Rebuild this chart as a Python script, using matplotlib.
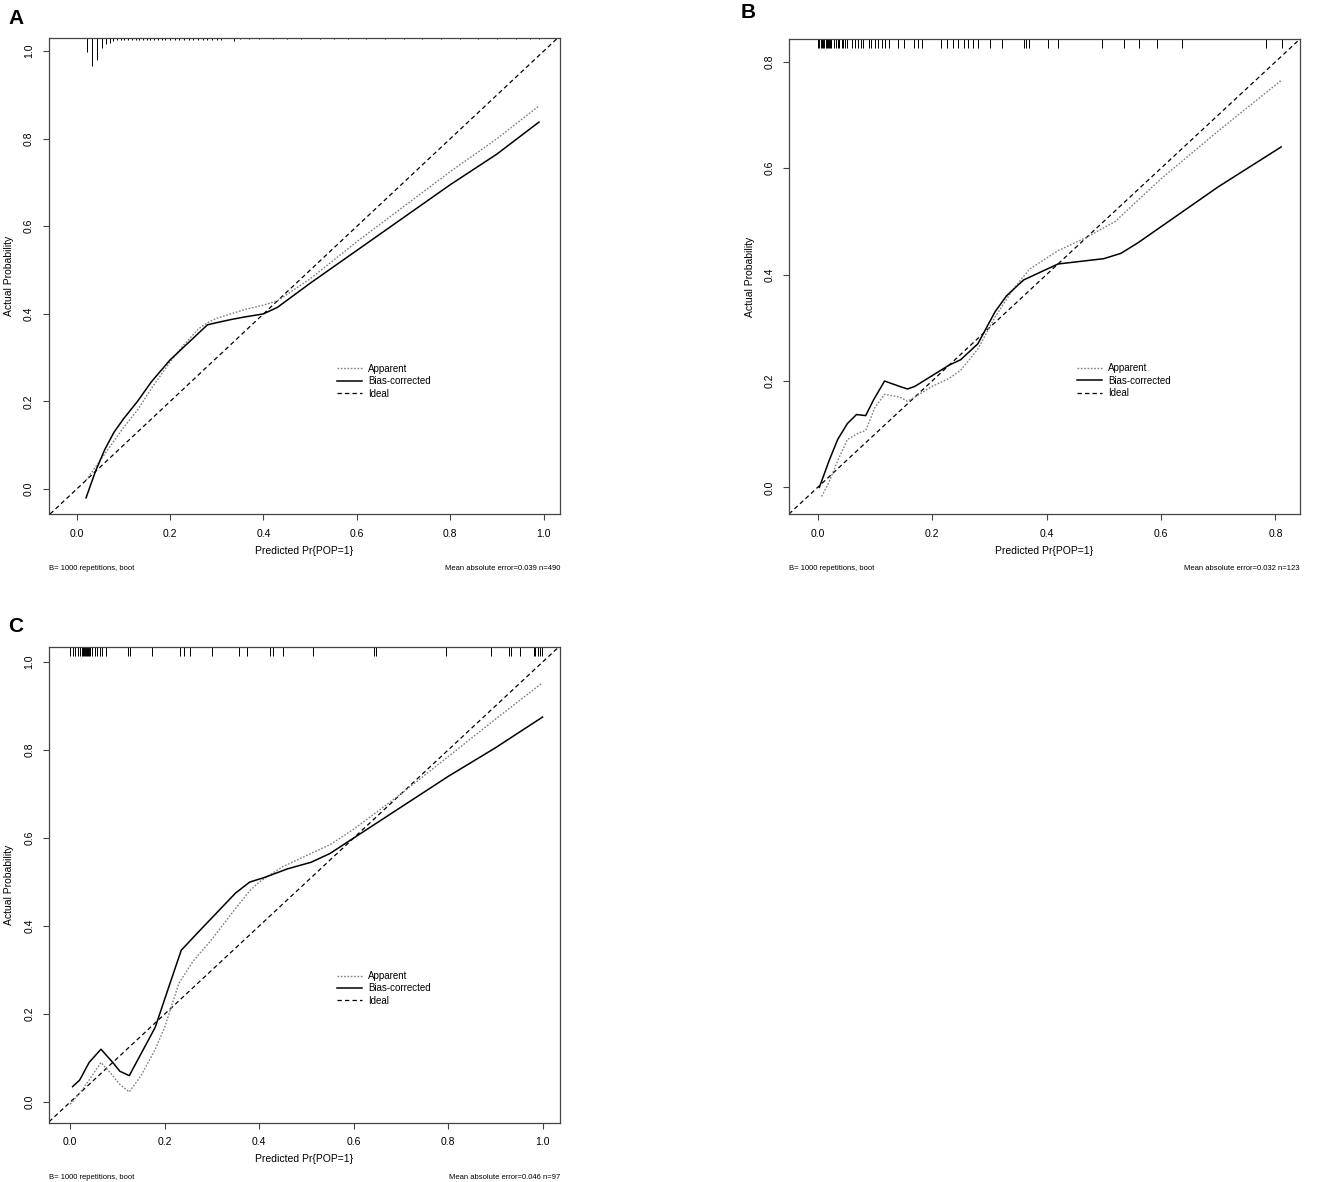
import matplotlib
matplotlib.use("Agg")
import matplotlib.pyplot as plt
from matplotlib.lines import Line2D

plt.rcParams['font.family'] = ['Liberation Sans', 'DejaVu Sans']

W, H = 1325, 1182

# ---- panel A data ----
a_app_x = [0.02, 0.04, 0.06, 0.08, 0.10, 0.13, 0.16, 0.20, 0.23, 0.26, 0.28, 0.30,
           0.33, 0.36, 0.40, 0.43, 0.50, 0.60, 0.70, 0.80, 0.90, 0.99]
a_app_y = [0.02, 0.05, 0.08, 0.11, 0.14, 0.18, 0.23, 0.29, 0.33, 0.365, 0.38, 0.39,
           0.40, 0.41, 0.42, 0.43, 0.48, 0.565, 0.645, 0.725, 0.80, 0.875]
a_bc_x = [0.02, 0.04, 0.06, 0.08, 0.10, 0.13, 0.16, 0.20, 0.23, 0.26, 0.28, 0.30,
          0.33, 0.36, 0.40, 0.43, 0.50, 0.60, 0.70, 0.80, 0.90, 0.99]
a_bc_y = [-0.02, 0.04, 0.09, 0.13, 0.16, 0.20, 0.245, 0.295, 0.325, 0.355, 0.375, 0.38,
          0.387, 0.393, 0.40, 0.415, 0.47, 0.545, 0.62, 0.695, 0.765, 0.838]
# distribution of predicted values (relative frequencies)
a_rug_x = [0.023, 0.033, 0.043, 0.054, 0.062, 0.071, 0.078, 0.086, 0.094, 0.102, 0.11,
           0.118, 0.126, 0.134, 0.142, 0.15, 0.158, 0.166, 0.174, 0.182, 0.19, 0.2,
           0.21, 0.22, 0.23, 0.24, 0.25, 0.26, 0.27, 0.28, 0.29, 0.3, 0.31, 0.336,
           0.35, 0.37, 0.39, 0.42, 0.45, 0.48, 0.52, 0.55, 0.58, 0.62, 0.66, 0.7,
           0.74, 0.78, 0.82, 0.86, 0.9, 0.94, 0.97, 0.99]
a_rug_n = [9, 18, 14, 6.5, 4, 3, 2, 1.5, 1.5, 1.5, 1.5,
           1.2, 1.2, 1.2, 1.2, 1.2, 1, 1, 1, 1, 1, 1,
           1, 1, 1, 1, 1, 1, 1, 1, 1, 1, 1, 2,
           0.8, 0.8, 0.8, 0.8, 0.8, 0.8, 0.8, 0.8, 0.8, 0.8, 0.8, 0.8,
           0.8, 0.8, 0.8, 0.8, 0.8, 0.8, 0.8, 0.8]

# ---- panel B data ----
b_app_x = [0.007, 0.02, 0.035, 0.052, 0.073, 0.084, 0.10, 0.117, 0.143, 0.157, 0.17,
           0.20, 0.23, 0.25, 0.28, 0.31, 0.34, 0.37, 0.42, 0.47, 0.52, 0.56, 0.60,
           0.70, 0.81]
b_app_y = [-0.017, 0.01, 0.05, 0.09, 0.103, 0.107, 0.15, 0.175, 0.17, 0.162, 0.17,
           0.19, 0.205, 0.22, 0.26, 0.32, 0.37, 0.41, 0.445, 0.47, 0.50, 0.54, 0.58,
           0.67, 0.765]
b_bc_x = [0.003, 0.02, 0.035, 0.052, 0.068, 0.084, 0.098, 0.117, 0.143, 0.157, 0.17,
          0.20, 0.23, 0.25, 0.28, 0.31, 0.33, 0.36, 0.38, 0.42, 0.50, 0.53, 0.56,
          0.60, 0.70, 0.81]
b_bc_y = [0.0, 0.05, 0.09, 0.12, 0.137, 0.135, 0.165, 0.20, 0.19, 0.185, 0.19,
          0.21, 0.23, 0.24, 0.27, 0.33, 0.36, 0.39, 0.40, 0.42, 0.43, 0.44, 0.46,
          0.49, 0.565, 0.64]
b_rug_x = [0.0, 0.003, 0.006, 0.008, 0.01, 0.012, 0.014, 0.016, 0.018, 0.02, 0.022,
           0.024, 0.028, 0.032, 0.035, 0.038, 0.042, 0.045, 0.048, 0.052, 0.06,
           0.065, 0.07, 0.075, 0.079, 0.089, 0.094, 0.1, 0.105, 0.112, 0.118, 0.125,
           0.141, 0.151, 0.169, 0.176, 0.182, 0.216, 0.226, 0.236, 0.246, 0.255,
           0.263, 0.272, 0.281, 0.302, 0.322, 0.361, 0.365, 0.370, 0.402, 0.420,
           0.497, 0.536, 0.562, 0.593, 0.636, 0.784, 0.812]

# ---- panel C data ----
c_app_x = [0.0, 0.02, 0.04, 0.065, 0.09, 0.105, 0.125, 0.15, 0.18, 0.20, 0.23, 0.26,
           0.30, 0.35, 0.38, 0.40, 0.45, 0.50, 0.55, 0.60, 0.70, 0.80, 0.90, 1.0]
c_app_y = [-0.005, 0.02, 0.05, 0.09, 0.06, 0.04, 0.023, 0.06, 0.12, 0.17, 0.27, 0.32,
           0.37, 0.44, 0.48, 0.50, 0.535, 0.56, 0.585, 0.62, 0.70, 0.785, 0.87, 0.953]
c_bc_x = [0.005, 0.02, 0.04, 0.065, 0.09, 0.105, 0.125, 0.15, 0.18, 0.205, 0.235, 0.27,
          0.31, 0.35, 0.38, 0.41, 0.46, 0.51, 0.55, 0.60, 0.70, 0.80, 0.90, 1.0]
c_bc_y = [0.035, 0.05, 0.09, 0.12, 0.09, 0.07, 0.06, 0.11, 0.17, 0.25, 0.345, 0.385,
          0.43, 0.475, 0.50, 0.51, 0.53, 0.545, 0.565, 0.60, 0.67, 0.74, 0.805, 0.875]
c_rug_x = [0.0, 0.006, 0.011, 0.016, 0.02, 0.024, 0.028, 0.03, 0.032, 0.034, 0.036,
           0.038, 0.04, 0.042, 0.047, 0.052, 0.057, 0.063, 0.068, 0.075, 0.122,
           0.127, 0.173, 0.233, 0.241, 0.254, 0.301, 0.357, 0.375, 0.424, 0.429,
           0.451, 0.514, 0.644, 0.648, 0.796, 0.891, 0.928, 0.934, 0.952, 0.981,
           0.985, 0.991, 0.995, 0.998]

panels = [
    dict(letter='A', frame=(48.7, 38, 560, 514), xlim=(-0.06, 1.035), ylim=(-0.057, 1.03),
         ticks=[0, 0.2, 0.4, 0.6, 0.8, 1.0], app=(a_app_x, a_app_y), bc=(a_bc_x, a_bc_y),
         rug=a_rug_x, rug_n=a_rug_n, leg=(0.557, 0.286),
         mae='Mean absolute error=0.039 n=490', letter_pos=(16, 18), ylab_x=14),
    dict(letter='B', frame=(789, 39, 1300, 514), xlim=(-0.05, 0.843), ylim=(-0.05, 0.843),
         ticks=[0, 0.2, 0.4, 0.6, 0.8], app=(b_app_x, b_app_y), bc=(b_bc_x, b_bc_y),
         rug=b_rug_x, rug_n=None, leg=(0.453, 0.233),
         mae='Mean absolute error=0.032 n=123', letter_pos=(748, 12), ylab_x=755),
    dict(letter='C', frame=(49, 646.7, 560, 1122.7), xlim=(-0.045, 1.037), ylim=(-0.047, 1.035),
         ticks=[0, 0.2, 0.4, 0.6, 0.8, 1.0], app=(c_app_x, c_app_y), bc=(c_bc_x, c_bc_y),
         rug=c_rug_x, rug_n=None, leg=(0.565, 0.298),
         mae='Mean absolute error=0.046 n=97', letter_pos=(16, 626), ylab_x=14),
]

fig = plt.figure(figsize=(W / 100, H / 100), dpi=100)

for p in panels:
    l, t, r, b = p['frame']
    ax = fig.add_axes([l / W, 1 - b / H, (r - l) / W, (b - t) / H])
    ax.set_xlim(*p['xlim'])
    ax.set_ylim(*p['ylim'])
    h_px = b - t

    ax.axline((0, 0), (1, 1), color='black', lw=0.9, ls=(0, (3.5, 2.5)))
    ax.plot(*p['app'], color='#808080', lw=1.0, ls=(0, (1.2, 1.2)))
    ax.plot(*p['bc'], color='black', lw=1.1)

    trans = ax.get_xaxis_transform()
    if p['rug_n'] is None:
        ax.vlines(p['rug'], 1 - 9 / h_px, 1, transform=trans, color='black', lw=0.7)
    else:
        lens = [1 - n * 1.55 / h_px for n in p['rug_n']]
        ax.vlines(p['rug'], lens, 1, transform=trans, color='black', lw=0.7)

    ax.set_xticks(p['ticks'])
    ax.set_yticks(p['ticks'])
    ax.set_xticklabels([f'{v:.1f}' for v in p['ticks']])
    ax.set_yticklabels([f'{v:.1f}' for v in p['ticks']], rotation=90, va='center')
    ax.tick_params(length=4.5, width=0.8, labelsize=7.5, pad=6, color='#444444')
    for s in ax.spines.values():
        s.set_linewidth(0.9)
        s.set_color('#444444')

    ax.set_xlabel('Predicted Pr{POP=1}', fontsize=7.5, labelpad=5)
    ax.set_ylabel('Actual Probability', fontsize=7.5)
    ax.yaxis.set_label_coords((p['ylab_x'] - l) / (r - l), 0.5)

    foot_y = -55 / h_px
    ax.text(0, foot_y, 'B= 1000 repetitions, boot', transform=ax.transAxes,
            fontsize=5.5, ha='left', va='center')
    ax.text(1, foot_y, p['mae'], transform=ax.transAxes,
            fontsize=5.5, ha='right', va='center')

    handles = [Line2D([], [], color='#808080', lw=1.0, ls=(0, (1.2, 1.2))),
               Line2D([], [], color='black', lw=1.1),
               Line2D([], [], color='black', lw=0.9, ls=(0, (3.5, 2.5)))]
    ax.legend(handles, ['Apparent', 'Bias-corrected', 'Ideal'], loc='upper left',
              bbox_to_anchor=p['leg'], bbox_transform=ax.transData, frameon=False,
              fontsize=7, handlelength=2.6, handletextpad=0.6, labelspacing=0.25,
              borderpad=0, borderaxespad=0)

    fig.text(p['letter_pos'][0] / W, 1 - p['letter_pos'][1] / H, p['letter'],
             fontsize=15, fontweight='bold', ha='center', va='center')

fig.savefig('out.png', dpi=100)
